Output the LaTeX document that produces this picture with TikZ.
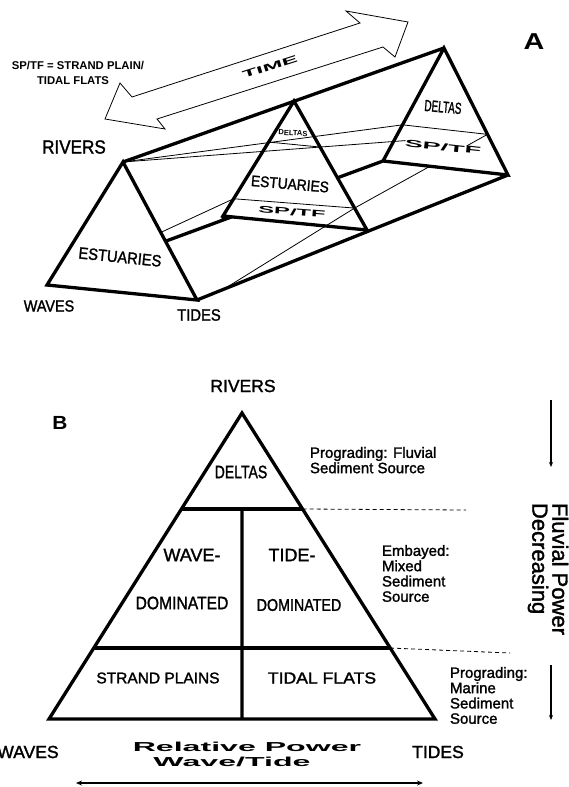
\documentclass[tikz,border=0pt]{standalone}
\usepackage{fontspec}
\setmainfont{Liberation Sans}
\newfontfamily\medfont{Liberation Sans}[FakeBold=1.6]
\usepackage{graphicx}
\usetikzlibrary{calc, arrows.meta}
\tikzset{
  heavy/.style={line width=3.3pt},
  fine/.style={line width=0.8pt},
  face/.style={fill=white, draw=none},
  lbl/.style={inner sep=0pt, outer sep=0pt}
}
\tikzset{
  downarrow/.style={line width=1.3pt, -{Stealth[length=5pt, width=4pt]}},
  bothways/.style={line width=2pt, {Stealth[length=6pt, width=5pt]}-{Stealth[length=6pt, width=5pt]}}
}
\newcommand\fs[1]{\fontsize{#1}{#1}\selectfont}
\newcommand\wide[2]{\scalebox{#1}[1]{\bfseries #2}}
\newcommand\narrow[2]{\scalebox{#1}[1]{#2}}

\begin{document}
\begin{tikzpicture}[x=1pt, y=-1pt]
\useasboundingbox (0,0) rectangle (569,787);

% A: prism corners
\coordinate (Fa) at (123,162);
\coordinate (Fw) at (47,285);
\coordinate (Ft) at (197,300);
\coordinate (Ma) at (294,101);
\coordinate (Ml) at (223,216);
\coordinate (Mr) at (367,230);
\coordinate (Ba) at (444,48);
\coordinate (Bl) at (383,161);
\coordinate (Br) at (508,175);
% boundaries between the fields
\coordinate (Md1) at ($(Ma)!0.357!(Ml)$);
\coordinate (Md2) at ($(Ma)!0.357!(Mr)$);
\coordinate (Ms1) at ($(Ma)!0.85!(Ml)$);
\coordinate (Ms2) at ($(Ma)!0.83!(Mr)$);
\coordinate (Bd1) at ($(Ba)!0.68!(Bl)$);
\coordinate (Bd2) at ($(Ba)!0.68!(Br)$);
\coordinate (Tt) at ($(Ft)!0.085!(Br)$);

% hidden side first
\draw[heavy] (Fw) -- (Bl);
\draw[fine] (Fw) -- (Ms1);
\path[face] (Fa) -- (Fw) -- (Ft) -- cycle;
\path[face] (Ma) -- (Ml) -- (Mr) -- cycle;

% thin lines on the faces
\draw[fine] (Fa) -- (Bd1);
\draw[fine] (Fa) -- ($(Fa)!0.775!(Bd2)$);
\draw[fine] (Md1) -- (Md2);
\draw[fine] (Ms1) -- (Ms2);
\draw[fine] (Bd1) -- (Bd2);
\draw[fine] (Tt) -- (Ms2) -- ($(Ms2)!0.573!(Bd2)$);
\draw[fine] ($(Ms2)!0.844!(Bd2)$) -- (Bd2);

% frame
\draw[heavy] (Fa) -- (Fw) -- (Ft) -- cycle;
\draw[heavy] (Ma) -- (Ml) -- (Mr) -- cycle;
\draw[heavy] (Ba) -- (Bl) -- (Br) -- cycle;
\draw[heavy] (Fa) -- (Ba);
\draw[heavy] (Ft) -- (Br);
\draw[heavy] (Ml) -- ($(Fw)!0.525!(Bl)$);

% time arrow
\coordinate (T1) at (105,119);
\coordinate (T2) at (120,83);
\coordinate (T3) at (132,97);
\coordinate (T4) at (360,23);
\coordinate (T5) at (346,11);
\coordinate (T6) at (408,22);
\coordinate (T7) at (395,57);
\coordinate (T8) at (383,47);
\coordinate (T9) at (157,119);
\coordinate (T10) at (165,129);
\draw[fine, line join=miter] (T1) -- (T2) -- (T3) -- (T4) -- (T5) -- (T6) -- (T7) -- (T8) -- (T9) -- (T10) -- cycle;
\node[lbl, rotate=17.7, font=\fs{10}] (time) at (270,67) {\wide{2.4}{TIME}};

% A: labels
\node[lbl, font=\fs{23}\bfseries] (labA) at (534,42) {\narrow{1.25}{A}};
\node[lbl, anchor=base, font=\fs{11.3}\bfseries] (key1) at (78,69) {SP/TF = STRAND PLAIN/};
\node[lbl, anchor=base, font=\fs{11.3}\bfseries] (key2) at (73,84) {TIDAL FLATS};
\node[lbl, font=\fs{19}\medfont] (rivA) at (74,147) {\narrow{0.9}{RIVERS}};
\node[lbl, font=\fs{16}\medfont] (wavA) at (49,306) {\narrow{0.9}{WAVES}};
\node[lbl, font=\fs{16.4}\medfont] (tidA) at (199,315) {\narrow{0.9}{TIDES}};
\node[lbl, rotate=-5.8, font=\fs{16.3}\medfont] (estF) at (120,257) {\narrow{0.9}{ESTUARIES}};
\node[lbl, rotate=-3, font=\fs{7.5}\bfseries] (delM) at (293,133) {DELTAS};
\node[lbl, rotate=-4.9, font=\fs{15.3}\medfont] (estM) at (290,184) {\narrow{0.9}{ESTUARIES}};
\node[lbl, rotate=-4.5, font=\fs{9.5}] (spM) at (292,212) {\wide{2.5}{SP/TF}};
\node[lbl, rotate=-5, font=\fs{16}\medfont] (delB) at (443,107) {\narrow{0.62}{DELTAS}};
\node[lbl, rotate=-6.3, font=\fs{10}] (spB) at (443,147) {\wide{2.7}{SP/TF}};

% B: triangle
\coordinate (Pa) at (242,413);
\coordinate (Pl) at (49,719);
\coordinate (Pr) at (435,719);
\coordinate (P1l) at ($(Pa)!0.3137!(Pl)$);
\coordinate (P1r) at ($(Pa)!0.3137!(Pr)$);
\coordinate (P2l) at ($(Pa)!0.768!(Pl)$);
\coordinate (P2r) at ($(Pa)!0.768!(Pr)$);
\coordinate (P1m) at ($(P1l)!0.5!(P1r)$);
\coordinate (Pm) at ($(Pl)!0.5!(Pr)$);
\coordinate (D1e) at (466,510);
\coordinate (D2e) at (510,653);

\draw[heavy] (Pa) -- (Pl) -- (Pr) -- cycle;
\draw[heavy] (P1l) -- (P1r);
\draw[heavy] (P2l) -- (P2r);
\draw[heavy] (P1m) -- (Pm);
\draw[fine, dash pattern=on 4pt off 3pt] (P1r) -- (D1e);
\draw[fine, dash pattern=on 4pt off 3pt] (P2r) -- (D2e);

% B: labels
\node[lbl, font=\fs{19}\bfseries] (labB) at (60,423) {\narrow{1.1}{B}};
\node[lbl, font=\fs{17.5}\medfont] (rivB) at (243,386) {RIVERS};
\node[lbl, font=\fs{18}\medfont] (delP) at (241,472) {\narrow{0.78}{DELTAS}};
\node[lbl, font=\fs{18}\medfont] (wavD) at (192,555) {WAVE-};
\node[lbl, font=\fs{18}\medfont] (tidD) at (292,555) {TIDE-};
\node[lbl, font=\fs{18}\medfont] (domW) at (182,603) {\narrow{0.87}{DOMINATED}};
\node[lbl, font=\fs{17}\medfont] (domT) at (299,605) {\narrow{0.84}{DOMINATED}};
\node[lbl, font=\fs{15.5}\medfont] (strP) at (158,678) {STRAND PLAINS};
\node[lbl, font=\fs{16}\medfont] (tidF) at (322,678) {\narrow{1.1}{TIDAL FLATS}};
\node[lbl, font=\fs{17.5}\medfont] (wavB) at (28,752) {WAVES};
\node[lbl, font=\fs{17.5}\medfont] (tidB) at (438,752) {TIDES};
\node[lbl, font=\fs{13}] (rel1) at (247,747) {\wide{2.47}{Relative Power}};
\node[lbl, font=\fs{13}] (rel2) at (232,762) {\wide{2.47}{Wave/Tide}};

\node[lbl, anchor=north west, align=left, font=\fontsize{15}{15.3}\selectfont\medfont] (srcF) at (310,447) {Prograding: Fluvial\\Sediment Source};
\node[lbl, anchor=north west, align=left, font=\fontsize{15}{15.3}\selectfont\medfont] (srcE) at (382,545) {Embayed:\\Mixed\\Sediment\\Source};
\node[lbl, anchor=north west, align=left, font=\fontsize{15}{15.3}\selectfont\medfont] (srcM) at (450,667) {Prograding:\\Marine\\Sediment\\Source};
\node[lbl, rotate=-90, align=left, font=\fontsize{22}{20}\selectfont\medfont] (fluv) at (548,569) {Fluvial Power\\Decreasing};

% B: arrows
\coordinate (F1s) at (551,400);
\coordinate (F1e) at (551,467);
\coordinate (F2s) at (551,665);
\coordinate (F2e) at (551,720);
\coordinate (R1) at (76,783);
\coordinate (R2) at (423,783);
\draw[downarrow] (F1s) -- (F1e);
\draw[downarrow] (F2s) -- (F2e);
\draw[bothways] (R1) -- (R2);
\end{tikzpicture}
\end{document}
